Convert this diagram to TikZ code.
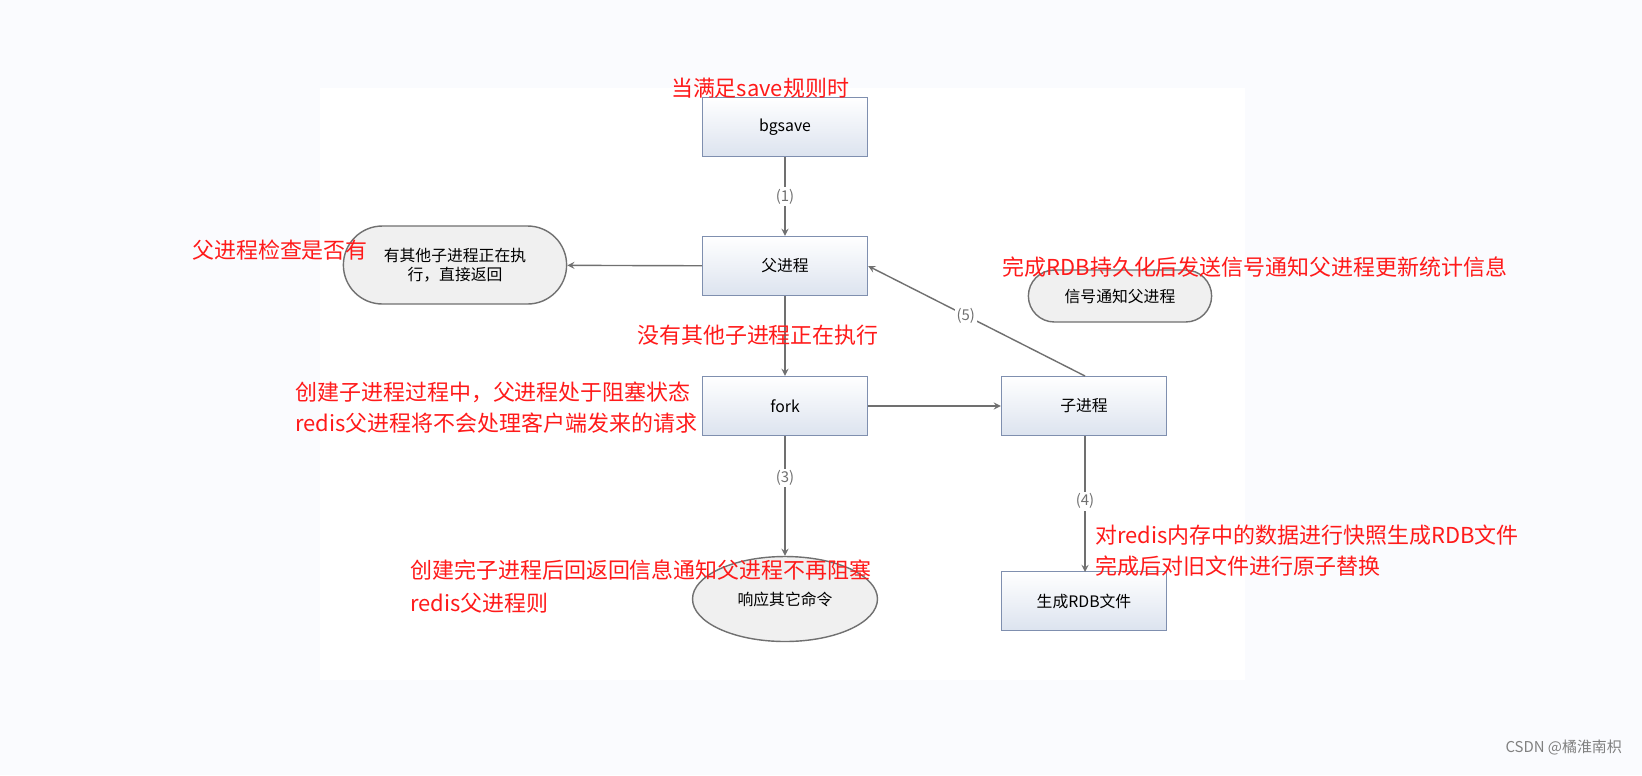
\documentclass[tikz,border=0pt]{standalone}
\usepackage{fontspec}
\setmainfont{Noto Sans CJK SC}
\usetikzlibrary{positioning,shapes.geometric,shapes.misc}
\definecolor{boxline}{HTML}{7F8FAF}
\definecolor{boxtop}{HTML}{FFFFFF}
\definecolor{boxbot}{HTML}{DCE3EF}
\definecolor{notered}{HTML}{FF1A1A}
\definecolor{linegray}{HTML}{707070}
\definecolor{pagebg}{HTML}{FAFBFE}
\tikzset{
  stepbox/.style = {rectangle, draw = boxline, thick, top color = boxtop, bottom color = boxbot,
    minimum width = 3.3cm, minimum height = 1.18cm, font = \fontsize{9}{11}\selectfont},
  pill/.style = {rounded rectangle, draw = linegray, thick, fill = gray!12, font = \fontsize{9}{11}\selectfont, align = center},
  note/.style = {text = notered, font = \fontsize{12.5}{16}\selectfont, inner sep = 0pt},
  num/.style = {font = \fontsize{8.5}{10}\selectfont, fill = white, inner sep = 1pt},
  flow/.style = {->, >=stealth, linegray, thick}
}
\begin{document}
\begin{tikzpicture}[x = 0.02cm, y = -0.02cm]
      \fill[pagebg] (0, 0) rectangle (1642, 775);
      \useasboundingbox (0, 0) rectangle (1642, 775);
      \fill[white] (320, 88) rectangle (1245, 680);

      \node[stepbox] (bgsave) at (785, 127) {bgsave};
      \node[stepbox] (parent) at (785, 266) {父进程};
      \node[stepbox] (fork) at (785, 406) {fork};
      \node[stepbox] (child) at (1084, 406) {子进程};
      \node[stepbox] (rdb) at (1084, 601) {生成RDB文件};
      \node[pill, minimum width = 4.7cm, minimum height = 1.56cm] (busy) at (455, 265) {有其他子进程正在执\\行，直接返回};
      \node[pill, minimum width = 3.9cm, minimum height = 1.04cm] (signal) at (1120, 296) {信号通知父进程};
      \node[ellipse, draw = linegray, thick, fill = gray!12, minimum width = 3.7cm, minimum height = 1.7cm,
        font = \fontsize{9}{11}\selectfont] (reply) at (785, 599) {响应其它命令};

      \coordinate (childtop) at (1085, 376);
      \coordinate (childbot) at (1085, 436);
      \coordinate (rdbtop) at (1085, 572);

      \draw[flow] (bgsave) -- node[num] {(1)} (parent);
      \draw[flow] (parent) -- (busy);
      \draw[flow] (parent) -- (fork);
      \draw[flow] (fork) -- (child);
      \draw[flow] (fork) -- node[num, pos = 0.35] {(3)} (reply);
      \draw[flow] (childbot) -- node[num, pos = 0.48] {(4)} (rdbtop);
      \draw[flow] (childtop) -- node[num, pos = 0.55] {(5)} (parent.east);

      % notes
      \node[note] (n1) at (760, 88) {当满足save规则时};
      \node[note] (n2) at (280, 250) {父进程检查是否有};
      \node[note] (n3) at (1255, 267) {完成RDB持久化后发送信号通知父进程更新统计信息};
      \node[note] (n4) at (758, 335) {没有其他子进程正在执行};
      \node[note, anchor = west] (n5) at (295, 392) {创建子进程过程中，父进程处于阻塞状态};
      \node[note, anchor = west] (n6) at (295, 423) {redis父进程将不会处理客户端发来的请求};
      \node[note, anchor = west] (n7) at (410, 570) {创建完子进程后回返回信息通知父进程不再阻塞};
      \node[note, anchor = west] (n8) at (410, 603) {redis父进程则};
      \node[note, anchor = west] (n9) at (1095, 535) {对redis内存中的数据进行快照生成RDB文件};
      \node[note, anchor = west] (n10) at (1095, 566) {完成后对旧文件进行原子替换};
      \node[text = gray, font = \fontsize{8.5}{10}\selectfont, anchor = east] (mark) at (1628, 748) {CSDN @橘淮南枳};
    \end{tikzpicture}
\end{document}
